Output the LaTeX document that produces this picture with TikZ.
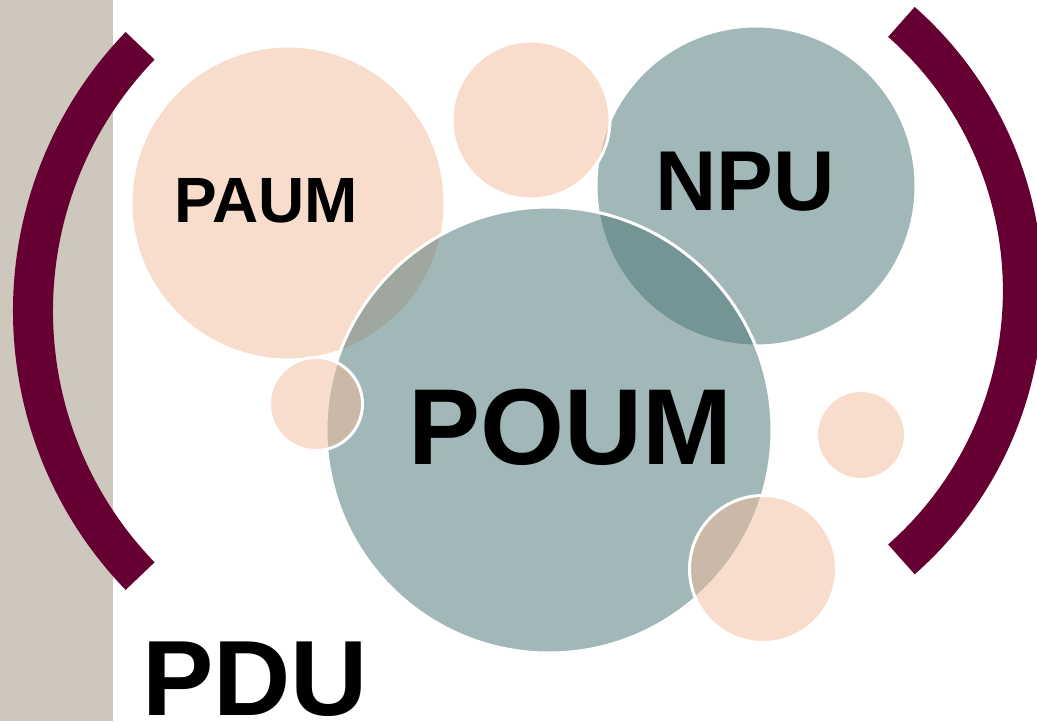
\documentclass[tikz,border=0pt]{standalone}
\usepackage{fontspec}
\setmainfont{Liberation Sans}
\definecolor{strip}{RGB}{205,199,189}
\definecolor{maroon}{RGB}{102,0,51}
\definecolor{tealbase}{RGB}{71,115,115}
\definecolor{peachbase}{RGB}{243,187,155}
\tikzset{
  bracket/.style={draw=maroon, line width=40pt, line cap=butt},
  tealc/.style={circle, inner sep=0pt, fill=tealbase, fill opacity=0.5, draw=white, draw opacity=1, line width=3pt},
  peachc/.style={circle, inner sep=0pt, fill=peachbase, fill opacity=0.5, draw=white, draw opacity=1, line width=3pt},
  lbl/.style={text=black, font=\bfseries, inner sep=0pt}
}
\begin{document}
\begin{tikzpicture}[x=1pt,y=1pt]
\useasboundingbox (0,0) rectangle (1037,-721);
\fill[white] (0,0) rectangle (1037,-721);
\fill[strip] (0,0) rectangle (113,-721);
% circles
\node[peachc, minimum size=314pt] (paum) at (288,-203) {};
\node[tealc, minimum size=320pt] (npu) at (756,-186) {};
\node[peachc, minimum size=158pt] (topp) at (531,-120) {};
\node[tealc, minimum size=446pt] (poum) at (549,-430) {};
\node[peachc, minimum size=93pt] (leftp) at (316,-404) {};
\node[peachc, minimum size=89pt] (rightp) at (861,-435) {};
\node[peachc, minimum size=147pt] (brp) at (763,-569) {};
% brackets
\draw[bracket] (140.1,-45.8) arc (136:224:381.7pt);
\draw[bracket] (901.4,-21.9) arc (48.65:-48.65:358pt);
% labels
\node[lbl, font=\bfseries\fontsize{64}{64}\selectfont] (tpaum) at (266,-201) {PAUM};
\node[lbl, font=\bfseries\fontsize{85}{85}\selectfont] (tnpu) at (745,-182) {NPU};
\node[lbl, font=\bfseries\fontsize{108}{108}\selectfont] (tpoum) at (570,-427) {POUM};
\node[lbl, font=\bfseries\fontsize{107}{107}\selectfont] (tpdu) at (255,-679) {PDU};
\end{tikzpicture}
\end{document}
